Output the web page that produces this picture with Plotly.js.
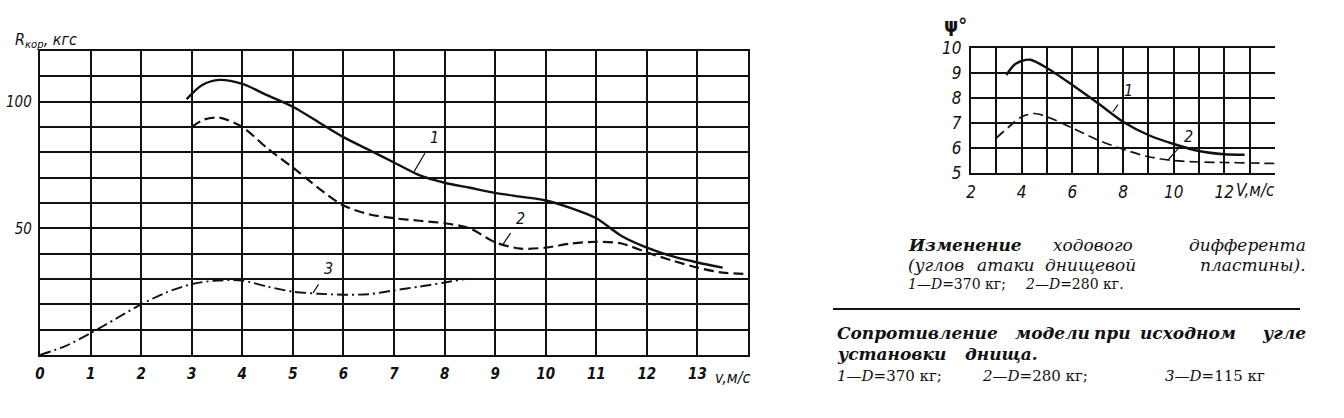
<!DOCTYPE html>
<html><head><meta charset="utf-8">
<script src="https://cdn.plot.ly/plotly-3.0.1.min.js"></script>
<style>body{margin:0;background:#fff}#c{width:1344px;height:418px}</style>
</head><body><div id="c"></div>
<script>
// ---- Left chart: resistance R_кор (кгс) vs v (м/с)
const v1 = [2.9, 3.2, 3.55, 4.0, 4.5, 5.0, 5.5, 6.0, 6.5, 7.0, 7.5, 8.0, 8.5, 9.0, 9.5, 10.0, 10.5, 11.0, 11.5, 12.0, 12.5, 13.0, 13.5];
const r1 = [101, 106.5, 108.6, 107, 102.5, 98, 92, 86, 81, 76, 71, 68, 66, 64, 62.5, 61, 58, 54, 47, 42.4, 39, 36.5, 34.5];
const v2 = [3.0, 3.25, 3.55, 4.0, 4.5, 5.0, 5.5, 6.0, 6.5, 7.0, 7.5, 8.0, 8.5, 9.0, 9.5, 10.0, 10.5, 11.0, 11.5, 12.0, 12.5, 13.0, 13.5, 14.0];
const r2 = [90, 93, 93.7, 90, 81.5, 74, 66, 59, 55.6, 54, 53, 52, 50, 44.5, 42, 42.4, 44, 44.7, 44, 40.5, 37.3, 34.5, 32.5, 32];
const v3 = [0, 0.5, 1, 1.5, 2, 2.5, 3, 3.5, 4, 4.5, 5, 5.5, 6, 6.5, 7, 7.5, 8, 8.4];
const r3 = [0, 3.5, 8.6, 14.3, 20, 24.7, 28, 29.4, 29.4, 27, 25, 24.2, 23.8, 24, 25.5, 27, 28.6, 30];
const leftXTicks = [0,1,2,3,4,5,6,7,8,9,10,11,12,13];
const leftYTicks = [0,10,20,30,40,50,60,70,80,90,100,110];
const leftYText  = ['','','','','','50','','','','','100',''];

// ---- Right chart: trim angle ψ° vs V (м/с)
const w1 = [3.4, 3.7, 4.0, 4.35, 5, 6, 7, 8, 9, 10, 11, 12, 12.8];
const p1 = [8.92, 9.32, 9.48, 9.53, 9.2, 8.52, 7.8, 7.05, 6.52, 6.16, 5.88, 5.75, 5.73];
const w2 = [3.0, 3.5, 4.0, 4.5, 5, 6, 7, 8, 9, 10, 11, 12, 13, 14];
const p2 = [6.4, 6.85, 7.25, 7.38, 7.25, 6.8, 6.32, 5.95, 5.65, 5.5, 5.44, 5.42, 5.4, 5.38];
const rightXTicks = [2,3,4,5,6,7,8,9,10,11,12,13];
const rightXText  = ['2','','4','','6','','8','','10','','12',''];
const rightYTicks = [5,6,7,8,9,10];

const W = 1344, H = 418;
const px = x => x / W, py = y => 1 - y / H;
const ink = '#111';
const numFont = "'Liberation Sans Narrow','DejaVu Sans Condensed','Liberation Sans',sans-serif";
const serif = "'DejaVu Serif','Liberation Serif',serif";

const traces = [
  {x: v1, y: r1, mode: 'lines', line: {color: ink, width: 2.4, shape: 'spline', smoothing: 0.8}, xaxis: 'x', yaxis: 'y'},
  {x: v2, y: r2, mode: 'lines', line: {color: ink, width: 2.2, dash: '10px,5px', shape: 'spline', smoothing: 0.8}, xaxis: 'x', yaxis: 'y'},
  {x: v3, y: r3, mode: 'lines', line: {color: ink, width: 1.9, dash: '11px,4px,2px,4px', shape: 'spline', smoothing: 0.8}, xaxis: 'x', yaxis: 'y'},
  {x: w1, y: p1, mode: 'lines', line: {color: ink, width: 2.4, shape: 'spline', smoothing: 0.8}, xaxis: 'x2', yaxis: 'y2'},
  {x: w2, y: p2, mode: 'lines', line: {color: ink, width: 1.7, dash: '10px,5px', shape: 'spline', smoothing: 0.8}, xaxis: 'x2', yaxis: 'y2'}
];

const axisCommon = {
  showgrid: true, gridcolor: ink, gridwidth: 2, zeroline: false,
  showline: true, linecolor: ink, linewidth: 2.2, ticks: '', fixedrange: true
};

function lead(xref, yref, tx, ty, lx, ly, t) {
  return {xref, yref, axref: xref, ayref: yref, x: lx, y: ly, ax: tx, ay: ty,
    text: t, showarrow: true, arrowhead: 0, arrowwidth: 1.2, arrowcolor: ink,
    font: {family: numFont, size: 16, color: ink, style: 'italic'}, standoff: 0, startstandoff: 7};
}
function word(x, y, text, size, anchor, weight) {
  return {xref: 'paper', yref: 'paper', x: px(x), y: py(y), text: text, showarrow: false,
    xanchor: anchor, yanchor: 'middle',
    font: {family: serif, size: size, color: ink, style: 'italic', weight: weight || 'normal'}};
}
function plain(x, y, text, size, anchor) {
  return {xref: 'paper', yref: 'paper', x: px(x), y: py(y), text: text, showarrow: false,
    xanchor: anchor, yanchor: 'middle',
    font: {family: serif, size: size, color: ink}};
}

const annotations = [
  lead('x', 'y', 7.8, 86, 7.4, 72.5, '1'),
  lead('x', 'y', 9.5, 54, 9.15, 43.5, '2'),
  lead('x', 'y', 5.7, 34, 5.4, 24.5, '3'),
  lead('x2', 'y2', 8.2, 8.3, 7.6, 7.45, '1'),
  lead('x2', 'y2', 10.6, 6.45, 9.8, 5.55, '2'),
  // axis titles
  {xref: 'paper', yref: 'paper', x: px(13), y: py(40), xanchor: 'left', yanchor: 'middle', showarrow: false,
   text: 'R<sub>кор</sub>, кгс', font: {family: numFont, size: 16, color: ink, style: 'italic'}},
  {xref: 'paper', yref: 'paper', x: px(713), y: py(377), xanchor: 'left', yanchor: 'middle', showarrow: false,
   text: 'v,м/с', font: {family: numFont, size: 16, color: ink, style: 'italic'}},
  {xref: 'paper', yref: 'paper', x: px(942), y: py(25), xanchor: 'left', yanchor: 'middle', showarrow: false,
   text: 'ψ°', font: {family: numFont, size: 20, color: ink, weight: 'bold'}},
  {xref: 'paper', yref: 'paper', x: px(1234), y: py(190), xanchor: 'left', yanchor: 'middle', showarrow: false,
   text: 'V,м/с', font: {family: numFont, size: 17, color: ink, style: 'italic'}},
  // caption 1 (justified word by word)
  word(906, 245, 'Изменение', 17, 'left', 'bold'),
  word(1093, 245, 'ходового', 17, 'center'),
  word(1308, 245, 'дифферента', 17, 'right'),
  word(906, 265, '(углов', 17, 'left'),
  word(1006, 265, 'атаки', 17, 'center'),
  word(1090, 265, 'днищевой', 17, 'center'),
  word(1308, 265, 'пластины).', 17, 'right'),
  plain(906, 284, '<i>1—D</i>=370 кг;', 14, 'left'),
  plain(1023, 284, '<i>2—D</i>=280 кг.', 14, 'left'),
  // caption 2
  word(835, 333, 'Сопротивление', 17, 'left', 'bold'),
  word(1013, 333, 'модели', 17, 'left', 'bold'),
  word(1092, 333, 'при', 17, 'left', 'bold'),
  word(1138, 333, 'исходном', 17, 'left', 'bold'),
  word(1308, 333, 'угле', 17, 'right', 'bold'),
  word(835, 354, 'установки', 17, 'left', 'bold'),
  word(963, 354, 'днища.', 17, 'left', 'bold'),
  plain(835, 376, '<i>1—D</i>=370 кг;', 15, 'left'),
  plain(980, 376, '<i>2—D</i>=280 кг;', 15, 'left'),
  plain(1163, 376, '<i>3—D</i>=115 кг', 15, 'left')
];

const layout = {
  width: W, height: H, margin: {l: 0, r: 0, t: 0, b: 0},
  paper_bgcolor: '#fff', plot_bgcolor: '#fff', showlegend: false,
  xaxis: Object.assign({}, axisCommon, {domain: [px(40), px(748)], range: [0, 14], anchor: 'y', mirror: true,
    tickvals: leftXTicks, ticktext: leftXTicks.map(String), ticklabelstandoff: 4,
    tickfont: {family: numFont, size: 15, color: ink, style: 'italic', weight: 'bold'}}),
  yaxis: Object.assign({}, axisCommon, {domain: [py(355), py(51)], range: [0, 120], anchor: 'x', mirror: true,
    tickvals: leftYTicks, ticktext: leftYText, ticklabelstandoff: 3,
    tickfont: {family: numFont, size: 15, color: ink, style: 'italic'}}),
  xaxis2: Object.assign({}, axisCommon, {domain: [px(971), px(1275)], range: [2, 14], anchor: 'y2', mirror: true,
    tickvals: rightXTicks, ticktext: rightXText, ticklabelstandoff: 2,
    tickfont: {family: numFont, size: 17, color: ink, style: 'italic'}}),
  yaxis2: Object.assign({}, axisCommon, {domain: [py(173), py(48)], range: [5, 10], anchor: 'x2', mirror: false,
    tickvals: rightYTicks, ticktext: rightYTicks.map(String), ticklabelstandoff: 4,
    tickfont: {family: numFont, size: 17, color: ink, style: 'italic'}}),
  annotations: annotations,
  shapes: [{type: 'line', xref: 'paper', yref: 'paper', x0: px(833), x1: px(1300), y0: py(309), y1: py(309),
    line: {color: ink, width: 2}}]
};

Plotly.newPlot('c', traces, layout, {staticPlot: true, displayModeBar: false});
</script>
</body></html>
